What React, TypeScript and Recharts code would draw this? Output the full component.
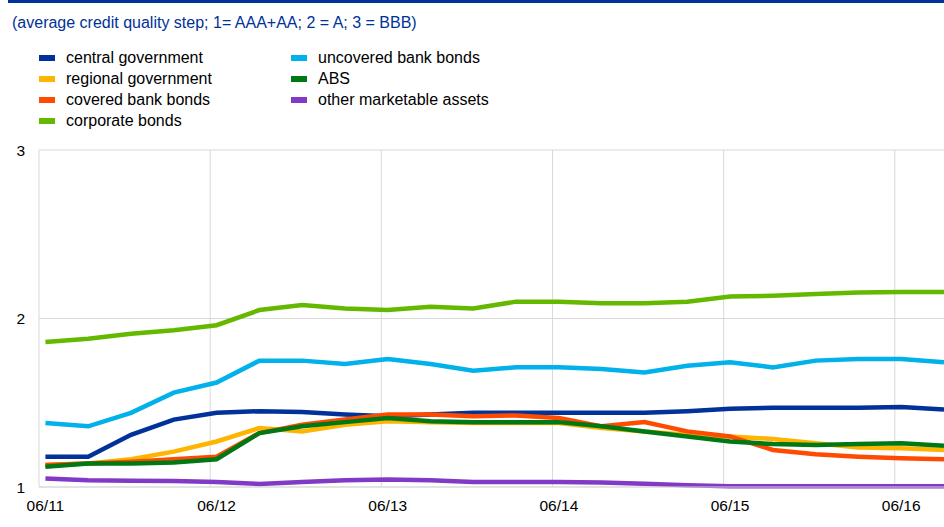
import { LineChart, Line, XAxis, YAxis, CartesianGrid, ReferenceLine } from 'recharts'

const quarters = [
  '06/11', '09/11', '12/11', '03/12', '06/12', '09/12', '12/12', '03/13', '06/13', '09/13', '12/13',
  '03/14', '06/14', '09/14', '12/14', '03/15', '06/15', '09/15', '12/15', '03/16', '06/16', '09/16',
]

const centralGovernment = [1.18, 1.18, 1.31, 1.4, 1.44, 1.45, 1.445, 1.43, 1.42, 1.43, 1.44, 1.44, 1.44, 1.44, 1.44, 1.45, 1.465, 1.47, 1.47, 1.47, 1.475, 1.46]
const regionalGovernment = [1.13, 1.14, 1.165, 1.21, 1.27, 1.35, 1.33, 1.37, 1.39, 1.385, 1.38, 1.38, 1.38, 1.35, 1.33, 1.31, 1.3, 1.285, 1.26, 1.235, 1.23, 1.22]
const coveredBankBonds = [1.13, 1.14, 1.15, 1.165, 1.18, 1.32, 1.37, 1.4, 1.43, 1.43, 1.42, 1.425, 1.41, 1.36, 1.385, 1.33, 1.3, 1.22, 1.195, 1.18, 1.17, 1.165]
const corporateBonds = [1.86, 1.88, 1.91, 1.93, 1.96, 2.05, 2.08, 2.06, 2.05, 2.07, 2.06, 2.1, 2.1, 2.09, 2.09, 2.1, 2.13, 2.135, 2.145, 2.155, 2.157, 2.157]
const uncoveredBankBonds = [1.38, 1.36, 1.44, 1.56, 1.62, 1.75, 1.75, 1.73, 1.76, 1.73, 1.69, 1.71, 1.71, 1.7, 1.68, 1.72, 1.74, 1.71, 1.75, 1.76, 1.76, 1.74]
const abs = [1.12, 1.14, 1.14, 1.145, 1.165, 1.32, 1.36, 1.385, 1.41, 1.39, 1.385, 1.385, 1.385, 1.36, 1.33, 1.3, 1.27, 1.255, 1.25, 1.255, 1.26, 1.245]
const otherMarketable = [1.05, 1.04, 1.037, 1.035, 1.03, 1.018, 1.03, 1.04, 1.045, 1.04, 1.03, 1.03, 1.03, 1.027, 1.02, 1.01, 1.005, 1.005, 1.005, 1.005, 1.005, 1.005]

const yTicks = [1, 2, 3]
const labelIdx = [0, 4, 8, 12, 16, 20]

const series = [
  { key: 'central', name: 'central government', color: '#003299', values: centralGovernment },
  { key: 'regional', name: 'regional government', color: '#FFB400', values: regionalGovernment },
  { key: 'covered', name: 'covered bank bonds', color: '#FF4B00', values: coveredBankBonds },
  { key: 'corporate', name: 'corporate bonds', color: '#65B800', values: corporateBonds },
  { key: 'uncovered', name: 'uncovered bank bonds', color: '#00B1EA', values: uncoveredBankBonds },
  { key: 'abs', name: 'ABS', color: '#007816', values: abs },
  { key: 'other', name: 'other marketable assets', color: '#8139C6', values: otherMarketable },
]

const chartData = quarters.map((q, i) => {
  const row: Record<string, number | string> = { idx: i, label: q }
  for (const s of series) row[s.key] = s.values[i]
  return row
})

const FONT = '"Liberation Sans", Arial, sans-serif'
const GRID = '#d9d9d9'
// gridlines sit slightly left of the data points
const gridShift = 0.15

function LegendItem({ name, color }: { name: string; color: string }) {
  return (
    <div style={{ display: 'flex', alignItems: 'center', height: 21 }}>
      <span style={{ display: 'inline-block', width: 16, height: 6, background: color, marginRight: 11 }} />
      <span>{name}</span>
    </div>
  )
}

export default function App() {
  const col1 = series.slice(0, 4)
  const col2 = series.slice(4)
  return (
    <div style={{ position: 'absolute', left: 0, top: 0, width: 944, height: 527, overflow: 'hidden', background: '#fff', fontFamily: FONT }}>
      <div style={{ position: 'absolute', left: 8, top: 0, width: 936, height: 3, background: '#003299' }} />
      <div style={{ position: 'absolute', left: 12, top: 14, fontSize: 16, color: '#003299', whiteSpace: 'nowrap' }}>
        (average credit quality step; 1= AAA+AA; 2 = A; 3 = BBB)
      </div>
      <div style={{ position: 'absolute', left: 39, top: 47, fontSize: 16, color: '#000' }}>
        {col1.map((s) => <LegendItem key={s.key} name={s.name} color={s.color} />)}
      </div>
      <div style={{ position: 'absolute', left: 291, top: 47, fontSize: 16, color: '#000' }}>
        {col2.map((s) => <LegendItem key={s.key} name={s.name} color={s.color} />)}
      </div>
      <div style={{ position: 'absolute', left: 0, top: 0 }}>
        <LineChart width={944} height={527} data={chartData} margin={{ top: 150, right: 0, bottom: 0, left: 0 }}>
          <CartesianGrid vertical={false} stroke={GRID} />
          {labelIdx.map((i) => (
            <ReferenceLine key={i} x={i - gridShift} stroke={GRID} strokeWidth={1} />
          ))}
          <XAxis
            dataKey="idx"
            type="number"
            domain={[-gridShift, quarters.length - 1]}
            ticks={labelIdx}
            tickFormatter={(v) => quarters[v]}
            height={40}
            tickLine={false}
            tickSize={0}
            tickMargin={13}
            axisLine={{ stroke: GRID }}
            tick={{ fill: '#000', fontSize: 15.5, fontFamily: FONT }}
          />
          <YAxis
            domain={[1, 3]}
            ticks={yTicks}
            width={39}
            tickLine={false}
            tickSize={0}
            tickMargin={14}
            axisLine={false}
            tick={{ fill: '#000', fontSize: 15.5, fontFamily: FONT }}
          />
          {series.map((s) => (
            <Line
              key={s.key}
              type="linear"
              dataKey={s.key}
              stroke={s.color}
              strokeWidth={4.5}
              dot={false}
              isAnimationActive={false}
            />
          ))}
        </LineChart>
      </div>
    </div>
  )
}
